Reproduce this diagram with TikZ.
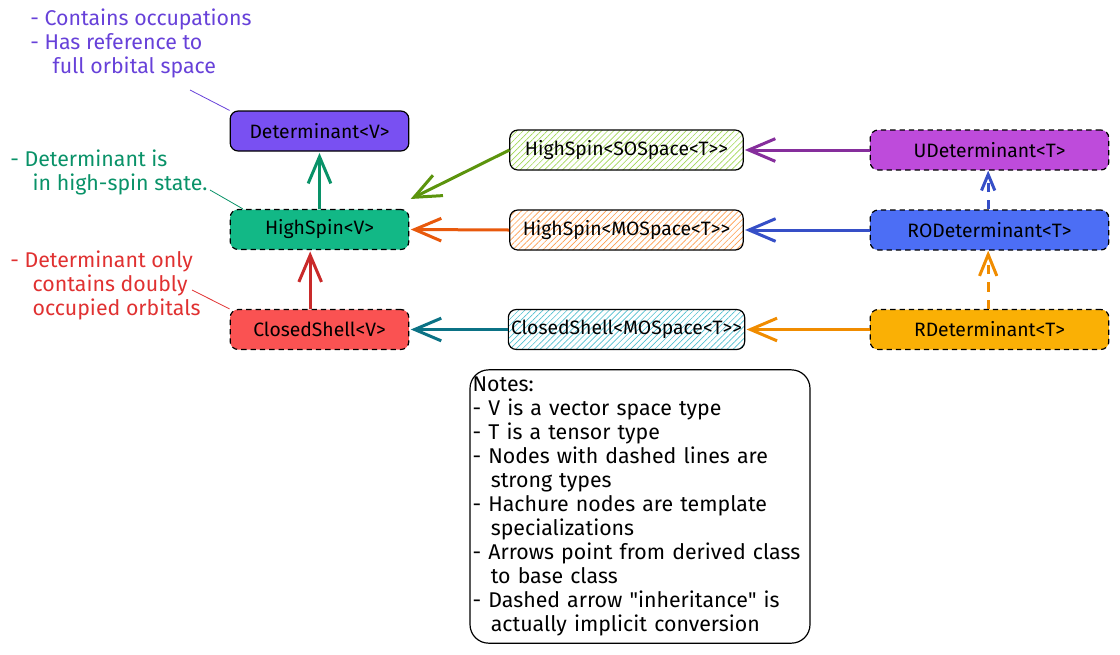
\documentclass[tikz,border=0pt]{standalone}
\usepackage{fontspec}
\setmainfont{Fira Sans}
\usetikzlibrary{arrows.meta,patterns.meta}
\definecolor{detviolet}{HTML}{7950F2}
\definecolor{noteviolet}{HTML}{6741D9}
\definecolor{hsgreen}{HTML}{12B886}
\definecolor{noteteal}{HTML}{099268}
\definecolor{csred}{HTML}{FA5252}
\definecolor{notered}{HTML}{E03131}
\definecolor{arrred}{HTML}{C92A2A}
\definecolor{solime}{HTML}{82C91E}
\definecolor{arrlime}{HTML}{5C940D}
\definecolor{moorange}{HTML}{FD7E14}
\definecolor{arrorange}{HTML}{E8590C}
\definecolor{mocyan}{HTML}{15AABF}
\definecolor{arrcyan}{HTML}{0B7285}
\definecolor{ugrape}{HTML}{BE4BDB}
\definecolor{arrgrape}{HTML}{862E9C}
\definecolor{roblue}{HTML}{4C6EF5}
\definecolor{arrblue}{HTML}{364FC7}
\definecolor{ryellow}{HTML}{FAB005}
\definecolor{arryellow}{HTML}{F08C00}

\begin{document}
\begin{tikzpicture}[x=0.75pt,y=-0.75pt,
  cls/.style={draw=black,line width=0.9pt,rounded corners=6pt,minimum height=30pt,inner sep=2pt,
    font=\fontsize{14.5}{16}\selectfont},
  base/.style={cls,minimum width=134pt},
  strong/.style={cls,dashed,dash pattern=on 4pt off 3pt},
  hach/.style={cls,minimum width=175pt,
    pattern={Lines[angle=45,distance=3.2pt,line width=0.5pt]},pattern color=#1!75},
  inh/.style={line width=2.25pt,-{Straight Barb[length=20pt,width=17pt]},shorten >=1pt},
  conv/.style={line width=2.25pt,dash pattern=on 7pt off 6pt,
    -{Straight Barb[length=16pt,width=13pt]}},
  remark/.style={align=left,anchor=north west,inner sep=0pt,
    font=\fontsize{16}{18}\selectfont},
  tie/.style={line width=0.6pt}]
  \useasboundingbox (0,0) rectangle (1120,654);

  % generic classes
  \node[base,fill=detviolet] (det) at (319.5,131) {Determinant<V>};
  \node[base,strong,fill=hsgreen] (hsv) at (319.5,229.5) {HighSpin<V>};
  \node[base,strong,fill=csred] (csv) at (319.5,329.5) {ClosedShell<V>};

  % specializations
  \node[hach=solime] (hsso) at (626.5,150) {HighSpin<SOSpace<T>{}>};
  \node[hach=moorange] (hsmo) at (626.5,230) {HighSpin<MOSpace<T>{}>};
  \node[hach=mocyan] (csmo) at (626.5,329.5) {ClosedShell<MOSpace<T>{}>};

  % tensor types
  \node[strong,minimum width=179pt,fill=ugrape] (udet) at (989.5,150) {UDeterminant<T>};
  \node[strong,minimum width=179pt,fill=roblue] (rodet) at (989.5,230) {RODeterminant<T>};
  \node[strong,minimum width=179pt,fill=ryellow] (rdet) at (989.5,329.5) {RDeterminant<T>};

  % inheritance
  \draw[inh,noteteal] (hsv.north) -- (det.south);
  \draw[inh,arrred] ([xshift=-7pt]csv.north) -- ([xshift=-7pt]hsv.south);
  \draw[inh,arrlime] (hsso.west) -- ([yshift=7pt]hsv.north east);
  \draw[inh,arrorange] (hsmo.west) -- (hsv.east);
  \draw[inh,arrcyan] (csmo.west) -- (csv.east);
  \draw[inh,arrgrape] (udet.west) -- (hsso.east);
  \draw[inh,arrblue] (rodet.west) -- (hsmo.east);
  \draw[inh,arryellow] (rdet.west) -- (csmo.east);
  \draw[conv,arrblue,-{Straight Barb[length=12pt,width=10pt]}] ([xshift=-1pt]rodet.north) -- ([xshift=-1pt]udet.south);
  \draw[conv,arryellow] ([xshift=-1pt]rdet.north) -- ([xshift=-1pt]rodet.south);

  % remarks
  \node[remark,text=noteviolet] (occnote) at (30,9)
    {- Contains occupations\\- Has reference to\\\hspace*{1.05em}full orbital space};
  \node[remark,text=noteteal] (spinnote) at (10,150)
    {- Determinant is\\\hspace*{1.05em}in high-spin state.};
  \node[remark,text=notered] (dblnote) at (10,251)
    {- Determinant only\\\hspace*{1.05em}contains doubly\\\hspace*{1.05em}occupied orbitals};
  \coordinate (occtip) at (190,90);
  \coordinate (spintip) at (210,190);
  \coordinate (dbltip) at (192,290);
  \draw[tie,noteviolet] (occtip) -- (det.north west);
  \draw[tie,noteteal] (spintip) -- ([xshift=10pt]hsv.north west);
  \draw[tie,notered] (dbltip) -- (csv.north west);

  \node[draw=black,line width=0.9pt,rounded corners=14pt,minimum height=205pt,text width=251pt,
    inner sep=2pt,align=left,font=\fontsize{16}{18}\selectfont] (notes) at (640,506.5)
    {Notes:\\
     - V is a vector space type\\
     - T is a tensor type\\
     - Nodes with dashed lines are\\\hspace*{0.85em}strong types\\
     - Hachure nodes are template\\\hspace*{0.85em}specializations\\
     - Arrows point from derived class\\\hspace*{0.85em}to base class\\
     - Dashed arrow \textquotedbl inheritance\textquotedbl{} is\\\hspace*{0.85em}actually implicit conversion};
\end{tikzpicture}
\end{document}
